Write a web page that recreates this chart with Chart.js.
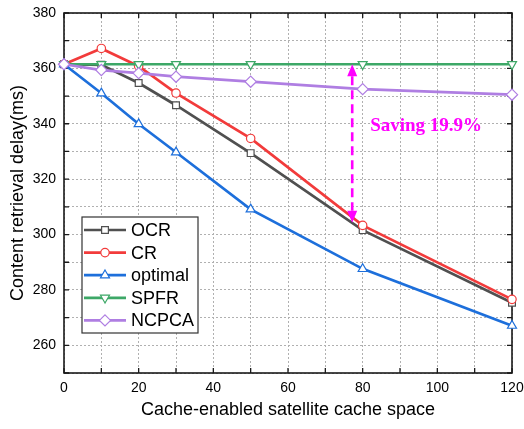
<!DOCTYPE html>
<html><head><meta charset="utf-8">
<script src="https://cdn.jsdelivr.net/npm/chart.js@4/dist/chart.umd.min.js"></script>
<style>html,body{margin:0;padding:0;background:#fff}#wrap{width:524px;height:429px}</style>
</head><body><div id="wrap"><canvas id="c" width="524" height="429"></canvas></div>
<script>
// ---- data ----
const cacheSpace = [0, 10, 20, 30, 50, 80, 120];
const seriesNames = ['OCR', 'CR', 'optimal', 'SPFR', 'NCPCA'];
const ocr     = [361.5, 361.3, 354.7, 346.7, 329.4, 301.6, 275.4];
const cr      = [361.5, 367.2, 360.8, 351.1, 334.7, 303.3, 276.6];
const optimal = [361.5, 351.0, 339.9, 329.7, 309.1, 287.6, 267.1];
const spfr    = [361.5, 361.5, 361.5, 361.5, 361.5, 361.5, 361.5];
const ncpca   = [361.5, 359.4, 358.3, 357.0, 355.2, 352.5, 350.5];
const xTickLabels = [0, 20, 40, 60, 80, 100, 120];
const yTickLabels = [260, 280, 300, 320, 340, 360, 380];
const savingAtX = 77.2, savingFrom = 361.5, savingTo = 304.3;
const savingText = 'Saving 19.9%';
const savingTextAt = [82, 339];

// ---- styles ----
const colors = ['#505050', '#F23B3B', '#1D6FDB', '#3DA867', '#AF7EE2'];
const styles = ['rect', 'circle', 'triangle', 'triangle', 'rectRot'];
const rotations = [0, 0, 0, 180, 0];
const radii = [4.8, 4.2, 5.2, 5.2, 5.6];
const values = [ocr, cr, optimal, spfr, ncpca];

const datasets = values.map((vals, i) => ({
  label: seriesNames[i],
  data: cacheSpace.map((x, j) => ({x: x, y: vals[j]})),
  borderColor: colors[i],
  backgroundColor: '#ffffff',
  borderWidth: 2.7,
  pointStyle: styles[i],
  pointRotation: rotations[i],
  pointRadius: radii[i],
  pointBorderWidth: 1.2,
  pointBorderColor: colors[i],
  pointBackgroundColor: '#ffffff',
  tension: 0,
  fill: false,
  order: values.length - 1 - i,
  clip: false
}));

function drawMarker(ctx, style, x, y, r, rot) {
  ctx.beginPath();
  const rad = rot * Math.PI / 180;
  if (style === 'circle') {
    ctx.arc(x, y, r, 0, Math.PI * 2);
  } else if (style === 'rect') {
    const s = r * Math.SQRT1_2;
    ctx.rect(x - s, y - s, 2 * s, 2 * s);
  } else if (style === 'triangle') {
    let a = rad;
    ctx.moveTo(x + Math.sin(a) * r, y - Math.cos(a) * r);
    a += 2 * Math.PI / 3;
    ctx.lineTo(x + Math.sin(a) * r, y - Math.cos(a) * r);
    a += 2 * Math.PI / 3;
    ctx.lineTo(x + Math.sin(a) * r, y - Math.cos(a) * r);
    ctx.closePath();
  } else if (style === 'rectRot') {
    ctx.moveTo(x, y - r); ctx.lineTo(x + r, y); ctx.lineTo(x, y + r); ctx.lineTo(x - r, y); ctx.closePath();
  }
  ctx.fill(); ctx.stroke();
}

const framePlugin = {
  id: 'frame',
  beforeDatasetsDraw(chart) {
    const {ctx, chartArea: a, scales} = chart;
    ctx.save();
    ctx.strokeStyle = '#1a1a1a';
    ctx.lineWidth = 1.6;
    ctx.strokeRect(a.left, a.top, a.right - a.left, a.bottom - a.top);
    ctx.lineWidth = 1.3;
    const tl = 5;
    scales.x.ticks.forEach(t => {
      const px = scales.x.getPixelForValue(t.value);
      ctx.beginPath();
      ctx.moveTo(px, a.bottom); ctx.lineTo(px, a.bottom - tl);
      ctx.moveTo(px, a.top); ctx.lineTo(px, a.top + tl);
      ctx.stroke();
    });
    scales.y.ticks.forEach(t => {
      const py = scales.y.getPixelForValue(t.value);
      ctx.beginPath();
      ctx.moveTo(a.left, py); ctx.lineTo(a.left + tl, py);
      ctx.moveTo(a.right, py); ctx.lineTo(a.right - tl, py);
      ctx.stroke();
    });
    ctx.restore();
  },
  afterDraw(chart) {
    const {ctx, scales} = chart;
    ctx.save();
    // annotation arrow
    const ax = scales.x.getPixelForValue(savingAtX);
    const yTop = scales.y.getPixelForValue(savingFrom);
    const yBot = scales.y.getPixelForValue(savingTo);
    const head = 12, hw = 5;
    ctx.strokeStyle = '#FF00FF';
    ctx.fillStyle = '#FF00FF';
    ctx.lineWidth = 2.6;
    ctx.setLineDash([9, 5]);
    ctx.beginPath();
    ctx.moveTo(ax, yTop + head); ctx.lineTo(ax, yBot - head);
    ctx.stroke();
    ctx.setLineDash([]);
    ctx.beginPath();
    ctx.moveTo(ax, yTop); ctx.lineTo(ax - hw, yTop + head); ctx.lineTo(ax + hw, yTop + head); ctx.closePath(); ctx.fill();
    ctx.beginPath();
    ctx.moveTo(ax, yBot); ctx.lineTo(ax - hw, yBot - head); ctx.lineTo(ax + hw, yBot - head); ctx.closePath(); ctx.fill();
    ctx.font = 'bold 19px "Liberation Serif", "Times New Roman", serif';
    ctx.textAlign = 'left';
    ctx.textBaseline = 'middle';
    ctx.fillText(savingText, scales.x.getPixelForValue(savingTextAt[0]), scales.y.getPixelForValue(savingTextAt[1]));

    // legend
    const bx = 82, by = 217, bw = 116, bh = 116;
    ctx.fillStyle = '#ffffff';
    ctx.fillRect(bx, by, bw, bh);
    ctx.strokeStyle = '#333333';
    ctx.lineWidth = 1.2;
    ctx.strokeRect(bx, by, bw, bh);
    const rowY0 = 230, rowStep = 22.6;
    chart.data.datasets.forEach((ds, i) => {
      const y = rowY0 + i * rowStep;
      ctx.strokeStyle = ds.borderColor;
      ctx.lineWidth = 2.7;
      ctx.beginPath(); ctx.moveTo(84, y); ctx.lineTo(126, y); ctx.stroke();
      ctx.fillStyle = '#ffffff';
      ctx.lineWidth = 1.2;
      drawMarker(ctx, ds.pointStyle, 105, y, ds.pointRadius, ds.pointRotation);
      ctx.fillStyle = '#000000';
      ctx.font = '18px "Liberation Sans", Arial, sans-serif';
      ctx.textAlign = 'left';
      ctx.textBaseline = 'middle';
      ctx.fillText(ds.label, 131, y + 1);
    });
    ctx.restore();
  }
};

new Chart(document.getElementById('c'), {
  type: 'line',
  data: {datasets: datasets},
  options: {
    responsive: false,
    animation: false,
    devicePixelRatio: 1,
    events: [],
    layout: {padding: {left: 0, right: 12, top: 13, bottom: 0}},
    plugins: {legend: {display: false}, tooltip: {enabled: false}},
    scales: {
      x: {
        type: 'linear', min: 0, max: 120,
        afterFit(s) { s.height = 56; s.paddingLeft = 0; s.paddingRight = 0; },
        ticks: {
          stepSize: 10, padding: 7, color: '#000', maxRotation: 0, autoSkip: false,
          font: {family: '"Liberation Sans", Arial, sans-serif', size: 14},
          callback: v => xTickLabels.includes(v) ? String(v) : ''
        },
        grid: {color: '#b0b0b0', lineWidth: 1, drawTicks: false},
        border: {display: false, dash: [2, 2]},
        title: {display: true, text: 'Cache-enabled satellite cache space', color: '#000',
          font: {family: '"Liberation Sans", Arial, sans-serif', size: 18}, padding: {top: 0, bottom: 8}}
      },
      y: {
        type: 'linear', min: 250, max: 380,
        afterFit(s) { s.width = 64; s.paddingTop = 0; s.paddingBottom = 0; },
        ticks: {
          stepSize: 10, padding: 8, color: '#000', autoSkip: false,
          font: {family: '"Liberation Sans", Arial, sans-serif', size: 14},
          callback: v => yTickLabels.includes(v) ? String(v) : ''
        },
        grid: {color: '#b0b0b0', lineWidth: 1, drawTicks: false},
        border: {display: false, dash: [2, 2]},
        title: {display: true, text: 'Content retrieval delay(ms)', color: '#000',
          font: {family: '"Liberation Sans", Arial, sans-serif', size: 18}, padding: {top: 7, bottom: 0}}
      }
    }
  },
  plugins: [framePlugin]
});
</script>
</body></html>
